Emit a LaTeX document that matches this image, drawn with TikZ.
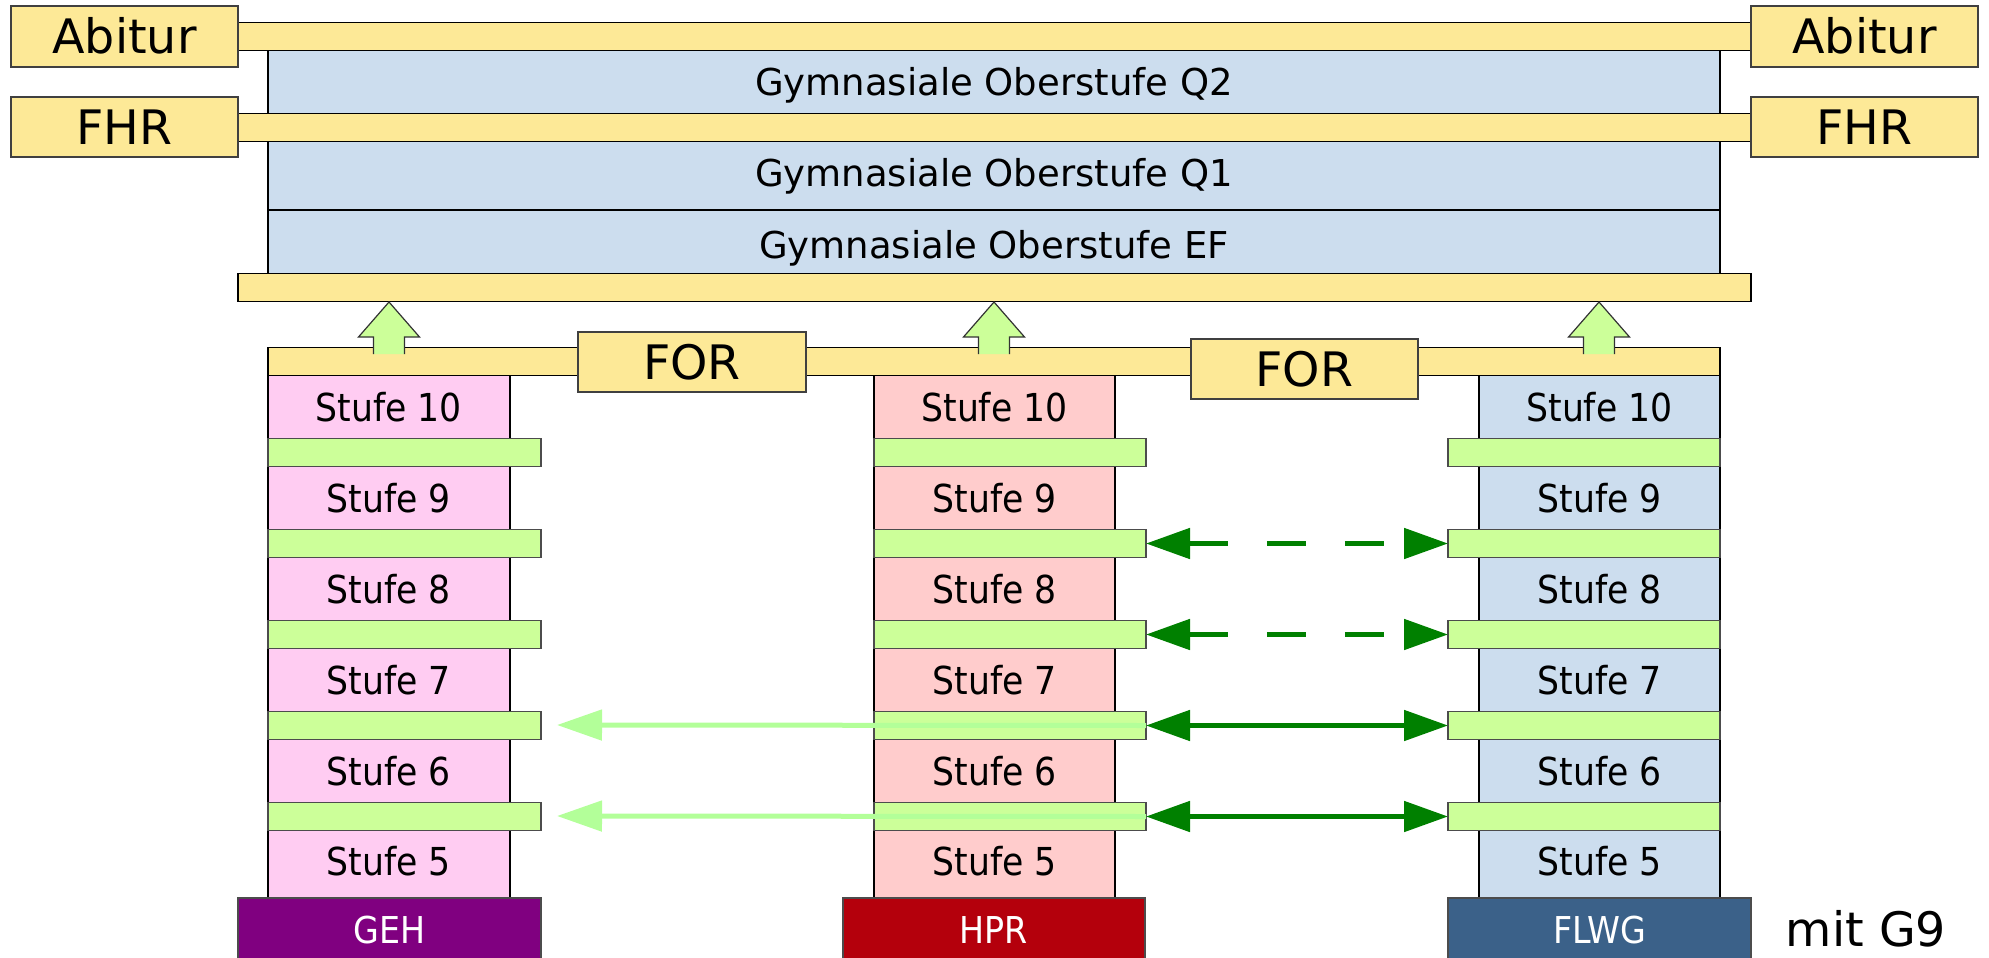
\documentclass[tikz,border=0pt]{standalone}
\usepackage{fontspec}
\setmainfont{DejaVu Sans}
\newfontfamily\condf{DejaVu Sans Condensed}
\usetikzlibrary{arrows.meta}
\definecolor{yel}{HTML}{FDE997}
\definecolor{blu}{HTML}{CCDDEE}
\definecolor{pnk}{HTML}{FFCCF2}
\definecolor{sal}{HTML}{FFCCCC}
\definecolor{grn}{HTML}{CCFF99}
\definecolor{dgrn}{HTML}{008000}
\definecolor{lgrn}{HTML}{B3FF99}
\definecolor{geh}{HTML}{800080}
\definecolor{hpr}{HTML}{B4000C}
\definecolor{flwg}{HTML}{3B6189}
\newcommand\bx[7][]{\node[boxbase,#1,minimum width={(#5-#3)*1pt},minimum height={(#6-#4)*1pt}] (#2) at ({(#3+#5)/2},{(#4+#6)/2}) {#7};}
\newcommand\uparr[1]{\draw[uparrow] ({#1-15.5},354) -- ({#1-15.5},337) -- ({#1-30.5},337) -- (#1,302) -- ({#1+30.5},337) -- ({#1+15.5},337) -- ({#1+15.5},354);}
\begin{document}
\begin{tikzpicture}[x=1pt,y=-1pt,
  boxbase/.style={draw=black,line width=1.4pt,inner sep=0pt,outer sep=0pt,
    font=\condf\fontsize{38.5}{44}\selectfont,text height=28pt,text depth=0pt},
  big/.style={font=\fontsize{47.5}{52}\selectfont,text height=34.6pt},
  yelbox/.style={fill=yel,big,draw=black!75},
  yelbar/.style={fill=yel},
  bluebox/.style={fill=blu,font=\fontsize{37}{42}\selectfont,text height=27pt},
  grnbar/.style={fill=grn,draw=black!70,line width=1.2pt},
  uparrow/.style={fill=grn,draw=black!80,line width=1.2pt},
  basebox/.style={text=white,draw=black!70,font=\condf\fontsize{37}{42}\selectfont,text height=27pt},
  darkarr/.style={draw=dgrn,line width=5pt,arrows={Triangle[length=44pt,width=30pt]-Triangle[length=44pt,width=30pt]}},
  lightarr/.style={draw=lgrn,line width=5pt,arrows={-Triangle[length=45pt,width=30pt]}},
]
\useasboundingbox (0,0) rectangle (1989,958);
% upper school
\bx[bluebox]{q2}{268}{44}{1720}{120}{Gymnasiale Oberstufe Q2}
\bx[bluebox]{q1}{268}{135}{1720}{210}{Gymnasiale Oberstufe Q1}
\bx[bluebox]{ef}{268}{210}{1720}{280}{Gymnasiale Oberstufe EF}
\bx[yelbar]{abbar}{238}{29}{1751}{44}{}
\bx[yelbar]{fhrbar}{238}{120}{1751}{135}{}
\bx[yelbar]{efbar}{238}{280}{1751}{295}{}
\bx[yelbox]{abl}{11}{6}{238}{67}{Abitur}
\bx[yelbox]{abr}{1751}{6}{1978}{67}{Abitur}
\bx[yelbox]{fhrl}{11}{97}{238}{157}{FHR}
\bx[yelbox]{fhrr}{1751}{97}{1978}{157}{FHR}
% columns
\foreach \cx/\cxx/\col/\p in {268/510/pnk/l,874/1115/sal/m,1479/1720/blu/r}{
  \bx[fill=\col]{\p10}{\cx}{369}{\cxx}{445}{Stufe 10}
  \bx[fill=\col]{\p9}{\cx}{460}{\cxx}{536}{Stufe 9}
  \bx[fill=\col]{\p8}{\cx}{551}{\cxx}{627}{Stufe 8}
  \bx[fill=\col]{\p7}{\cx}{642}{\cxx}{718}{Stufe 7}
  \bx[fill=\col]{\p6}{\cx}{733}{\cxx}{809}{Stufe 6}
  \bx[fill=\col]{\p5}{\cx}{824}{\cxx}{898}{Stufe 5}
}
\foreach \bl/\br/\p in {268/541/l,874/1146/m,1448/1720/r}{
  \bx[grnbar]{\p b109}{\bl}{445}{\br}{460}{}
  \bx[grnbar]{\p b98}{\bl}{536}{\br}{551}{}
  \bx[grnbar]{\p b87}{\bl}{627}{\br}{642}{}
  \bx[grnbar]{\p b76}{\bl}{718}{\br}{733}{}
  \bx[grnbar]{\p b65}{\bl}{809}{\br}{824}{}
}
\bx[yelbar]{forbar}{268}{354}{1720}{369}{}
\bx[yelbox]{for1}{578}{332}{806}{392}{FOR}
\bx[yelbox]{for2}{1191}{339}{1418}{399}{FOR}
\uparr{389}
\uparr{994}
\uparr{1599}
% school types
\bx[basebox,fill=geh]{geh}{238}{898}{541}{962}{GEH}
\bx[basebox,fill=hpr]{hpr}{843}{898}{1145}{962}{HPR}
\bx[basebox,fill=flwg]{flwgb}{1448}{898}{1751}{962}{FLWG}
\node[font=\fontsize{47.5}{52}\selectfont,text height=34.6pt,text depth=0pt,inner sep=0pt] (g9) at (1866,929) {mit G9};
% transitions
\coordinate (lt1) at (557,725);
\coordinate (lt2) at (557,816);
\draw[lightarr] (mb76.east) -- (lt1);
\draw[lightarr] (mb65.east) -- (lt2);
\draw[darkarr,dash pattern=on 39pt off 39pt] (mb98.east) -- (rb98.west);
\draw[darkarr,dash pattern=on 39pt off 39pt] (mb87.east) -- (rb87.west);
\draw[darkarr] (mb76.east) -- (rb76.west);
\draw[darkarr] (mb65.east) -- (rb65.west);
\end{tikzpicture}
\end{document}
